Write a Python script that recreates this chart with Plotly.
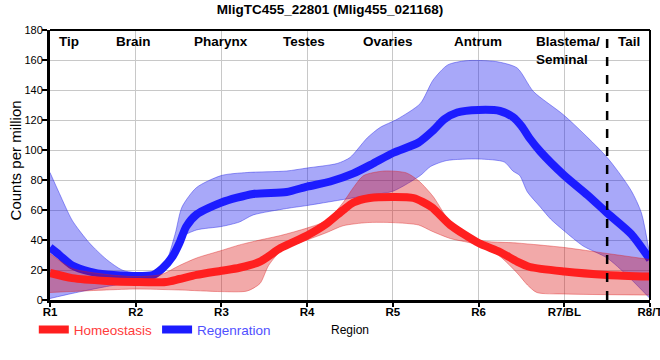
import plotly.graph_objects as go

# Region axis
region_ticks = ["R1", "R2", "R3", "R4", "R5", "R6", "R7/BL", "R8/T"]
region_names = ["Tip", "Brain", "Pharynx", "Testes", "Ovaries", "Antrum", "Blastema/<br>Seminal", "Tail"]
region_name_x = [0.22, 0.97, 1.99, 2.96, 3.94, 4.99, 5.65, 6.75]
tail_boundary = 6.5

# Regeneration (blue) series
regen_mean_x = [0, 0.11, 0.26, 0.46, 0.66, 1.0, 1.2, 1.31, 1.43, 1.51, 1.59, 1.71, 2.0, 2.37, 2.76, 3.0, 3.27,
                3.54, 3.77, 4.0, 4.3, 4.47, 4.6, 4.75, 5.0, 5.25, 5.4, 5.5, 5.6, 5.72, 6.0, 6.27, 6.5, 6.78, 7.0]
regen_mean = [35, 30, 23, 19, 17, 16, 16.7, 21, 29, 38, 49, 57, 65, 70.7, 72, 75.6, 79,
              84.4, 91, 98, 105, 113, 120.5, 125, 126.7, 126, 122, 116, 107.5, 99, 83, 70, 58, 44, 27]

regen_upper_x = [0, 0.11, 0.26, 0.46, 0.66, 0.84, 1.0, 1.23, 1.35, 1.46, 1.54, 1.71, 2.0, 2.3, 2.76, 3.0, 3.35,
                 3.5, 3.7, 3.85, 4.05, 4.32, 4.47, 4.64, 4.85, 5.2, 5.45, 5.64, 6.0, 6.5, 6.78, 6.9, 7.0]
regen_upper = [85, 71, 53, 38, 27, 20, 18, 19, 25, 44, 62, 75, 83, 85, 86, 88, 91,
               95, 108, 115, 120.5, 131, 146.7, 156.7, 159.5, 159, 154.7, 139, 123, 95, 73, 58, 29]

regen_lower_x = [0, 0.26, 0.66, 1.0, 1.23, 1.35, 1.46, 1.54, 1.71, 2.0, 2.21, 2.37, 2.76, 3.0, 3.39, 3.73, 4.0,
                 4.32, 4.44, 4.63, 5.0, 5.3, 5.4, 5.48, 5.57, 5.72, 5.84, 6.0, 6.22, 6.5, 6.74, 7.0]
regen_lower = [1, 4.4, 9, 12, 14.5, 20, 33, 42, 46.7, 49, 52, 56.7, 61, 63, 66.7, 70, 72.5,
               83, 89, 93, 94, 92, 86, 83, 72, 62, 54, 46, 36, 28, 16, 1]

# Homeostasis (red) series
homeo_mean_x = [0, 0.26, 0.66, 1.0, 1.35, 1.51, 1.71, 2.0, 2.21, 2.45, 2.69, 3.0, 3.23, 3.42, 3.54, 3.73, 4.0,
                4.24, 4.45, 4.67, 5.0, 5.25, 5.45, 5.6, 6.0, 6.5, 7.0]
homeo_mean = [18, 14.6, 12.7, 12, 12, 14, 16.7, 19.5, 21.5, 25.6, 34.6, 43, 51, 60, 65, 68, 68.7,
              68, 62, 50, 38, 32, 25.6, 22, 19, 16.7, 15.6]

homeo_upper_x = [0, 0.26, 0.66, 1.0, 1.3, 1.51, 1.71, 2.0, 2.21, 2.45, 2.69, 3.0, 3.23, 3.42, 3.54, 3.66, 3.9,
                 4.16, 4.31, 4.47, 4.67, 5.0, 5.45, 6.0, 6.5, 7.0]
homeo_upper = [31, 21, 17, 15.6, 17, 23, 28, 33, 36.7, 40, 43, 48, 53, 65, 75, 83, 86,
               84.7, 79, 69, 52, 40, 38, 35, 31, 27]

homeo_lower_x = [0, 0.66, 1.0, 1.5, 2.0, 2.3, 2.45, 2.55, 2.7, 3.0, 3.23, 3.42, 3.7, 4.0, 4.3, 4.45,
                 4.67, 5.0, 5.25, 5.45, 5.57, 5.68, 6.0, 7.0]
homeo_lower = [5, 6.7, 7.3, 6.7, 5.6, 6, 11, 23, 33, 40, 45, 49.5, 51.6, 51.6, 50, 46,
               41, 36.7, 29, 18, 10, 5, 4, 3.3]

FONT = "Arial, 'Liberation Sans', sans-serif"
BLUE_FILL = "rgba(20,20,240,0.37)"
BLUE_EDGE = "rgba(40,40,230,0.45)"
RED_FILL = "rgba(218,10,10,0.35)"
RED_EDGE = "rgba(220,30,30,0.4)"
SMOOTH = 0.7

fig = go.Figure()

# Blue band
fig.add_trace(go.Scatter(x=regen_lower_x, y=regen_lower, mode="lines",
                         line=dict(color=BLUE_EDGE, width=1, shape="spline", smoothing=SMOOTH),
                         showlegend=False, hoverinfo="skip"))
fig.add_trace(go.Scatter(x=regen_upper_x, y=regen_upper, mode="lines", fill="tonexty", fillcolor=BLUE_FILL,
                         line=dict(color=BLUE_EDGE, width=1, shape="spline", smoothing=SMOOTH),
                         showlegend=False, hoverinfo="skip"))
# Blue mean
fig.add_trace(go.Scatter(x=regen_mean_x, y=regen_mean, mode="lines",
                         line=dict(color="#1c1cff", width=8, shape="spline", smoothing=SMOOTH),
                         name='<span style="color:#5050ff">Regenration</span>', legendrank=2))
# Red band
fig.add_trace(go.Scatter(x=homeo_lower_x, y=homeo_lower, mode="lines",
                         line=dict(color=RED_EDGE, width=1, shape="spline", smoothing=SMOOTH),
                         showlegend=False, hoverinfo="skip"))
fig.add_trace(go.Scatter(x=homeo_upper_x, y=homeo_upper, mode="lines", fill="tonexty", fillcolor=RED_FILL,
                         line=dict(color=RED_EDGE, width=1, shape="spline", smoothing=SMOOTH),
                         showlegend=False, hoverinfo="skip"))
# Red mean
fig.add_trace(go.Scatter(x=homeo_mean_x, y=homeo_mean, mode="lines",
                         line=dict(color="#ff1f1f", width=8, shape="spline", smoothing=SMOOTH),
                         name='<span style="color:#ff3b3b">Homeostasis</span>', legendrank=1))

annotations = []
for nm, xx in zip(region_names, region_name_x):
    if "<br>" in nm:
        annotations.append(dict(x=xx, y=179, xref="x", yref="y", text="<b>" + nm + "</b>", showarrow=False,
                                xanchor="left", yanchor="top", align="left",
                                font=dict(family=FONT, size=13.5, color="black")))
    else:
        annotations.append(dict(x=xx, y=179, xref="x", yref="y", text="<b>" + nm + "</b>", showarrow=False,
                                xanchor="center", yanchor="top",
                                font=dict(family=FONT, size=13.5, color="black")))

# y-axis title as annotation for exact placement
annotations.append(dict(x=-35 / 600, y=0.517, xref="paper", yref="paper", text="Counts per million",
                        textangle=-90, showarrow=False, xanchor="center", yanchor="middle",
                        font=dict(family=FONT, size=15, color="black")))

shapes = [
    dict(type="line", xref="x", yref="y", x0=tail_boundary, x1=tail_boundary, y0=0, y1=180,
         line=dict(color="black", width=2.5, dash="dash")),
    dict(type="line", xref="paper", yref="paper", x0=0, x1=1, y0=1, y1=1, line=dict(color="black", width=2)),
    dict(type="line", xref="paper", yref="paper", x0=1, x1=1, y0=0, y1=1, line=dict(color="black", width=2)),
]

fig.update_layout(
    width=660, height=360,
    margin=dict(l=50, r=10, t=30, b=60),
    paper_bgcolor="white", plot_bgcolor="white",
    font=dict(family=FONT, size=12, color="black"),
    title=dict(text="<b>MligTC455_22801 (Mlig455_021168)</b>", x=0.5, xanchor="center",
               y=1 - 9 / 360, yanchor="middle", yref="container",
               font=dict(family=FONT, size=13.5, color="black")),
    xaxis=dict(range=[0, 7], tickmode="array", tickvals=list(range(len(region_ticks))),
               ticktext=["<b>" + t + "</b>" for t in region_ticks],
               tickfont=dict(family=FONT, size=11.5, color="black"),
               showgrid=True, gridcolor="#c8c8c8", gridwidth=1,
               ticks="outside", ticklen=4, tickwidth=2, tickcolor="black",
               ticklabelstandoff=-5, ticklabeloverflow="allow",
               showline=True, linecolor="black", linewidth=3, zeroline=False,
               title=dict(text="Region", font=dict(family=FONT, size=12, color="black"), standoff=9),
               automargin=False),
    yaxis=dict(range=[0, 180], tickmode="array", tickvals=list(range(0, 181, 20)),
               tickfont=dict(family=FONT, size=11, color="black"),
               showgrid=True, gridcolor="#c8c8c8", gridwidth=1,
               ticks="outside", ticklen=5, tickwidth=2, tickcolor="black",
               ticklabelstandoff=-3,
               showline=True, linecolor="black", linewidth=3, zeroline=False,
               automargin=False),
    legend=dict(orientation="h", x=-0.027, xanchor="left", y=-0.11, yanchor="middle",
                font=dict(family=FONT, size=13.5), bgcolor="rgba(0,0,0,0)", traceorder="normal"),
    annotations=annotations,
    shapes=shapes,
)

fig.write_html("out.html", config={"displayModeBar": False},
               post_script="document.body.style.margin='0';")
